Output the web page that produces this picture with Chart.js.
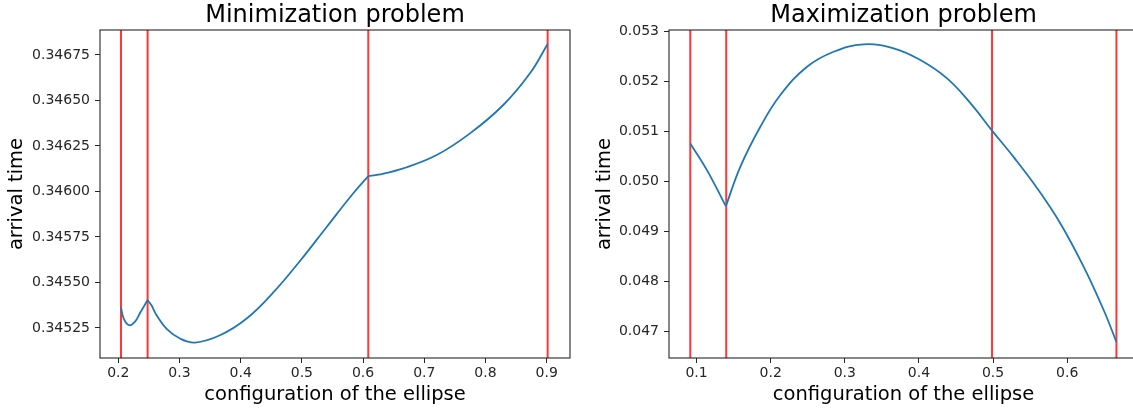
<!DOCTYPE html>
<html lang="en">
<head>
<meta charset="UTF-8">
<title>Arrival time vs ellipse configuration</title>
<script src="https://cdn.jsdelivr.net/npm/chart.js"></script>
<style>
  body { margin: 0; background: #fff; }
  #wrap { position: relative; width: 1133px; height: 408px; overflow: hidden; }
  .pane { position: absolute; top: 0; height: 408px; overflow: hidden; }
</style>
</head>
<body>
<div id="wrap">
  <div class="pane" style="left:0; width:580px;"><canvas id="minChart" width="580" height="408"></canvas></div>
  <div class="pane" style="left:580px; width:553px;"><canvas id="maxChart" width="560" height="408"></canvas></div>
</div>

<script>
// ---- minimization problem ----
var minSeg1X = [0.2044, 0.2090, 0.2177, 0.2270, 0.2360, 0.2479];
var minSeg1Y = [0.345364, 0.345300, 0.345265, 0.345283, 0.345335, 0.345404];
var minSeg2X = [0.2479, 0.2544, 0.2626, 0.2790, 0.3008, 0.3253, 0.3662, 0.4098, 0.4533, 0.4969, 0.5405, 0.5840, 0.6085];
var minSeg2Y = [0.345404, 0.345373, 0.345320, 0.345245, 0.345192, 0.345170, 0.345210, 0.345302, 0.345445, 0.345618, 0.345805, 0.345990, 0.346084];
var minSeg3X = [0.6085, 0.6250, 0.6657, 0.7203, 0.7747, 0.8291, 0.8727, 0.9016];
var minSeg3Y = [0.346084, 0.346092, 0.346127, 0.346200, 0.346319, 0.346475, 0.346649, 0.346810];
var minBreaks = [0.2044, 0.2479, 0.6085, 0.9016];
var minXTicks = [0.2, 0.3, 0.4, 0.5, 0.6, 0.7, 0.8, 0.9];
var minYTicks = [0.34525, 0.34550, 0.34575, 0.34600, 0.34625, 0.34650, 0.34675];
var minXRange = [0.1701, 0.9381];
var minYRange = [0.345085, 0.346887];

// ---- maximization problem ----
var maxSeg1X = [0.0915, 0.1140, 0.1395];
var maxSeg1Y = [0.050754, 0.050220, 0.049500];
var maxSeg2X = [0.1395, 0.1590, 0.1860, 0.2130, 0.2490, 0.2849, 0.3254, 0.3659, 0.4019, 0.4379, 0.4694, 0.4986, 0.5278, 0.5594, 0.5908, 0.6223, 0.6493, 0.6664];
var maxSeg2Y = [0.049500, 0.050286, 0.051086, 0.051720, 0.052286, 0.052586, 0.052734, 0.052654, 0.052420, 0.052054, 0.051560, 0.051010, 0.050480, 0.049860, 0.049154, 0.048286, 0.047420, 0.046786];
var maxBreaks = [0.0915, 0.1400, 0.4986, 0.6664];
var maxXTicks = [0.1, 0.2, 0.3, 0.4, 0.5, 0.6];
var maxYTicks = [0.047, 0.048, 0.049, 0.050, 0.051, 0.052, 0.053];
var maxXRange = [0.0628, 0.6955];
var maxYRange = [0.046466, 0.05302];

var FONT = "'DejaVu Sans', sans-serif";
var BLUE = '#1f77b4';
var RED = 'rgba(255, 20, 20, 0.85)';
var INK = '#262626';

function toPoints(xs, ys) {
  return xs.map(function (x, i) { return { x: x, y: ys[i] }; });
}

// box around the plot area, like matplotlib spines
var frame = {
  id: 'frame',
  afterDatasetsDraw: function (chart) {
    var a = chart.chartArea, ctx = chart.ctx;
    ctx.save();
    ctx.strokeStyle = INK;
    ctx.lineWidth = 1.1;
    ctx.strokeRect(a.left, a.top, a.right - a.left, a.bottom - a.top);
    ctx.restore();
  }
};

// title centred over the axes box (matplotlib style), not over the canvas
var axesTitle = {
  id: 'axesTitle',
  afterDraw: function (chart, args, opts) {
    var a = chart.chartArea, ctx = chart.ctx;
    ctx.save();
    ctx.font = '24px ' + FONT;
    ctx.fillStyle = '#000';
    ctx.textAlign = 'center';
    ctx.textBaseline = 'middle';
    ctx.fillText(opts.text, (a.left + a.right) / 2, 15.4);
    ctx.restore();
  }
};

function makeChart(id, cfg) {
  var datasets = [];
  cfg.breaks.forEach(function (b) {
    datasets.push({
      data: [{ x: b, y: cfg.yRange[0] }, { x: b, y: cfg.yRange[1] }],
      showLine: true, borderColor: RED, borderWidth: 2, pointRadius: 0, order: 2
    });
  });
  cfg.segments.forEach(function (s) {
    datasets.push({
      data: toPoints(s[0], s[1]),
      showLine: true, borderColor: BLUE, borderWidth: 1.8, pointRadius: 0,
      tension: 0.4, order: 1
    });
  });

  return new Chart(document.getElementById(id).getContext('2d'), {
    type: 'scatter',
    data: { datasets: datasets },
    plugins: [frame, axesTitle],
    options: {
      responsive: false,
      animation: false,
      layout: { padding: { left: 0, right: cfg.padRight, top: 30, bottom: 0 } },
      plugins: {
        legend: { display: false },
        tooltip: { enabled: false },
        title: { display: false },
        axesTitle: { text: cfg.title }
      },
      scales: {
        x: {
          type: 'linear', min: cfg.xRange[0], max: cfg.xRange[1],
          afterBuildTicks: function (axis) { axis.ticks = cfg.xTicks.map(function (v) { return { value: v }; }); },
          afterFit: function (axis) { axis.height = 50; },
          grid: { drawOnChartArea: false, drawTicks: true, tickLength: 5, color: INK },
          border: { display: false },
          ticks: {
            color: INK, padding: 2, maxRotation: 0,
            font: { family: FONT, size: 14 },
            callback: function (v) { return v.toFixed(1); }
          },
          title: {
            display: true, text: 'configuration of the ellipse', color: '#000',
            font: { family: FONT, size: 19.5 }, padding: { top: 0, bottom: 1.3 }
          }
        },
        y: {
          type: 'linear', min: cfg.yRange[0], max: cfg.yRange[1],
          afterBuildTicks: function (axis) { axis.ticks = cfg.yTicks.map(function (v) { return { value: v }; }); },
          afterFit: function (axis) { axis.width = cfg.yWidth; },
          grid: { drawOnChartArea: false, drawTicks: true, tickLength: 5, color: INK },
          border: { display: false },
          ticks: {
            color: INK, padding: 5,
            font: { family: FONT, size: 14 },
            callback: function (v) { return v.toFixed(cfg.yDigits); }
          },
          title: {
            display: true, text: 'arrival time', color: '#000',
            font: { family: FONT, size: 19.5 }, padding: { top: cfg.yTitlePad, bottom: 0 }
          }
        }
      }
    }
  });
}

makeChart('minChart', {
  title: 'Minimization problem',
  segments: [[minSeg1X, minSeg1Y], [minSeg2X, minSeg2Y], [minSeg3X, minSeg3Y]],
  breaks: minBreaks, xTicks: minXTicks, yTicks: minYTicks,
  xRange: minXRange, yRange: minYRange,
  yWidth: 100, padRight: 10, yDigits: 5, yTitlePad: 5
});

makeChart('maxChart', {
  title: 'Maximization problem',
  segments: [[maxSeg1X, maxSeg1Y], [maxSeg2X, maxSeg2Y]],
  breaks: maxBreaks, xTicks: maxXTicks, yTicks: maxYTicks,
  xRange: maxXRange, yRange: maxYRange,
  yWidth: 89, padRight: 2, yDigits: 3, yTitlePad: 13.3
});
</script>
</body>
</html>
